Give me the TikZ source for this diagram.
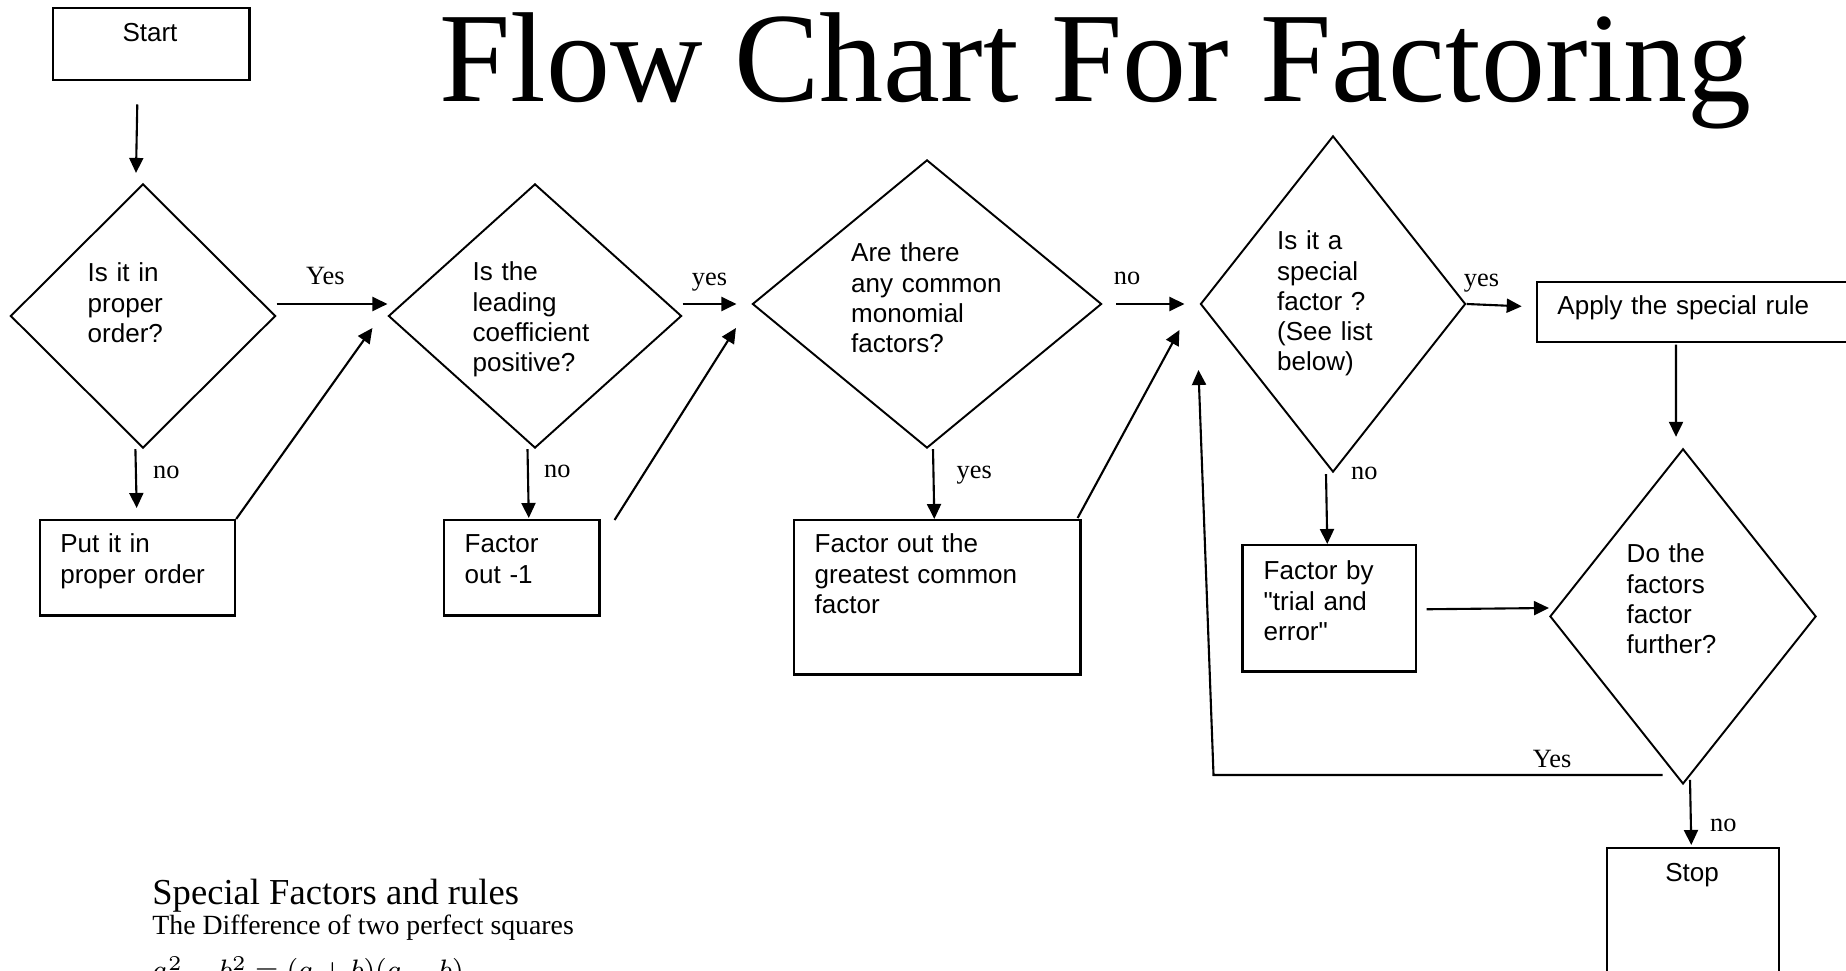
\documentclass[tikz,border=0pt]{standalone}
\usepackage{fontspec}
\setmainfont{Liberation Serif}
\newfontfamily\arial{Liberation Sans}
\usetikzlibrary{shapes.geometric, arrows.meta}

\begin{document}
\begin{tikzpicture}[x=0.01cm, y=-0.01cm,
    box/.style={draw, line width=0.7pt, anchor=north west, inner sep=0pt},
    decision/.style={draw, diamond, line width=0.55pt, inner sep=0pt},
    flowtext/.style={font=\arial\fontsize{7.4}{8.54}\selectfont, align=left, text width=3cm, inner sep=0pt, anchor=base west},
    answer/.style={font=\fontsize{7.5}{9}\selectfont, inner sep=0pt, anchor=base},
    flowarrow/.style={line width=0.6pt, -{Triangle[length=0.15cm, width=0.14cm]}}]
    \useasboundingbox (0,0) rectangle (1846,971);
    \fill[white] (0,0) rectangle (1846,971);
    \clip (0,0) rectangle (1846,971);

    % Title
    \node[anchor=base west, inner sep=0pt, font=\fontsize{36.4}{40}\selectfont] (title) at (438.7,102) {Flow Chart For Factoring};

    % Decisions
    \node[decision, minimum width=2.65cm, minimum height=2.64cm] (d1) at (143,316) {};
    \node[decision, minimum width=2.93cm, minimum height=2.64cm] (d2) at (535,316) {};
    \node[decision, minimum width=3.49cm, minimum height=2.88cm] (d3) at (927,304) {};
    \node[decision, minimum width=2.65cm, minimum height=3.36cm] (d4) at (1333,304) {};
    \node[decision, minimum width=2.66cm, minimum height=3.35cm] (d5) at (1683,616.4) {};

    \node[flowtext] (q1) at (87,282) {Is it in\\proper\\order?};
    \node[flowtext] (q2) at (472,281) {Is the\\leading\\coefficient\\positive?};
    \node[flowtext] (q3) at (850.5,262) {Are there\\any common\\monomial\\factors?};
    \node[flowtext] (q4) at (1276.5,250) {Is it a\\special\\factor ?\\(See list\\below)};
    \node[flowtext] (q5) at (1626,563) {Do the\\factors\\factor\\further?};

    % Boxes
    \node[box, minimum width=1.96cm, minimum height=0.72cm] (start) at (52,7) {};
    \node[box, minimum width=1.95cm, minimum height=0.95cm] (put) at (38.6,519) {};
    \node[box, minimum width=1.55cm, minimum height=0.95cm] (neg) at (443,519) {};
    \node[box, minimum width=2.86cm, minimum height=1.54cm] (gcf) at (793,519) {};
    \node[box, minimum width=1.73cm, minimum height=1.26cm] (trial) at (1241.4,544) {};
    \node[box, minimum width=3.3cm, minimum height=0.6cm] (apply) at (1535.7,280.7) {};
    \node[box, minimum width=1.72cm, minimum height=1.5cm] (stop) at (1605.8,846.8) {};

    \node[flowtext, align=center, anchor=base] (starttext) at (150,42) {Start};
    \node[flowtext] (puttext) at (59.6,553) {Put it in\\proper order};
    \node[flowtext] (negtext) at (464,553) {Factor\\out -1};
    \node[flowtext] (gcftext) at (814,553) {Factor out the\\greatest common\\factor};
    \node[flowtext] (trialtext) at (1263,580) {Factor by\\"trial and\\error"};
    \node[flowtext] (applytext) at (1556.7,315) {Apply the special rule};
    \node[flowtext, align=center, anchor=base] (stoptext) at (1692,882) {Stop};

    % Main line
    \draw[flowarrow] ([shift={(-14,23)}]start.south) -- ([shift={(-7,-10)}]d1.north);
    \draw[flowarrow] ([shift={(0,-12)}]d1.east) -- node[answer, pos=0.44, yshift=0.19cm] {Yes} ([shift={(0,-12)}]d2.west);
    \draw[flowarrow] ([shift={(0,-12)}]d2.east) -- node[answer, yshift=0.18cm] {yes} ([shift={(-15,0)}]d3.west);
    \draw[flowarrow] ([shift={(13.5,0)}]d3.east) -- node[answer, pos=0.16, yshift=0.19cm] {no} ([shift={(-15,0)}]d4.west);
    \draw[flowarrow] (d4.east) -- node[answer, pos=0.27, yshift=0.18cm] {yes} ([shift={(-14,-5.6)}]apply.west);
    \draw[flowarrow] ([shift={(140.3,1.5)}]apply.south west) -- ([shift={(-7,-11)}]d5.north);

    % Down branches
    \draw[flowarrow] ([shift={(-7.6,0)}]d1.south) -- node[answer, anchor=base west, xshift=0.16cm] {no} ([shift={(-0.7,-11)}]put.north);
    \draw[flowarrow] ([shift={(-7.5,0)}]d2.south) -- node[answer, anchor=base west, pos=0.42, xshift=0.15cm] {no} ([shift={(7,-1)}]neg.north);
    \draw[flowarrow] ([shift={(6,0)}]d3.south) -- node[answer, anchor=base west, pos=0.42, xshift=0.22cm] {yes} ([shift={(-3,0)}]gcf.north);
    \draw[flowarrow] ([shift={(-7,1)}]d4.south) -- node[answer, anchor=base west, pos=0.08, xshift=0.24cm] {no} ([shift={(-1.9,0)}]trial.north);
    \draw[flowarrow] ([shift={(9.6,1)}]trial.east) -- ([shift={(0,-8.4)}]d5.west);
    \draw[flowarrow] ([shift={(7,-5)}]d5.south) -- node[answer, anchor=base west, pos=0.8, xshift=0.18cm] {no} ([shift={(-1.8,-1.8)}]stop.north);

    % Back to the main line
    \draw[flowarrow] (put.north east) -- ([shift={(-15,12)}]d2.west);
    \draw[flowarrow] ([shift={(14,1)}]neg.north east) -- ([shift={(-15.5,24)}]d3.west);
    \draw[flowarrow] ([shift={(-4,-1)}]gcf.north east) -- ([shift={(-20,26)}]d4.west);
    \draw[flowarrow] ([shift={(-20.4,-10)}]d5.south) -- node[answer, pos=0.246, yshift=0.07cm] {Yes} ++(-449.1,0) -- ([shift={(-1,66)}]d4.west);

    % Special factors list
    \node[anchor=base west, inner sep=0pt, font=\fontsize{10.4}{12}\selectfont] (spectitle) at (151.7,905) {Special Factors and rules};
    \node[anchor=base west, inner sep=0pt, font=\fontsize{7.9}{9.5}\selectfont] (specdiff) at (151.7,935) {The Difference of two perfect squares};
    \node[anchor=base west, inner sep=0pt, font=\fontsize{8}{10}\selectfont] (specrule) at (151.7,980) {$a^2-b^2=(a+b)(a-b)$};
\end{tikzpicture}
\end{document}
